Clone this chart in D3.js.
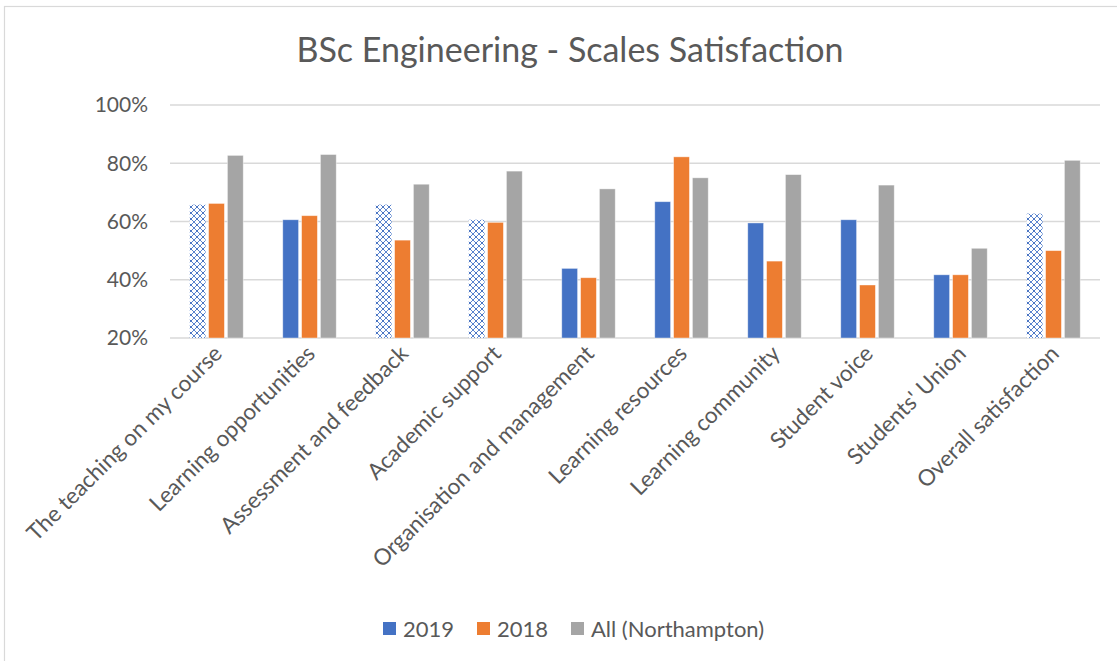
<!DOCTYPE html>
<html>
<head>
<meta charset="utf-8">
<script src="https://cdn.jsdelivr.net/npm/d3@7"></script>
<style>
  body { margin: 0; background: #fff; }
  text { font-family: Lato, "Open Sans", sans-serif; fill: #595959; }
</style>
</head>
<body>
<svg id="chart" width="1117" height="661"></svg>
<script>
// chart values
const categories = [
  "The teaching on my course",
  "Learning opportunities",
  "Assessment and feedback",
  "Academic support",
  "Organisation and management",
  "Learning resources",
  "Learning community",
  "Student voice",
  "Students' Union",
  "Overall satisfaction",
];
const seriesNames = ["2019", "2018", "All (Northampton)"];
const values2019 = [0.658, 0.606, 0.658, 0.606, 0.439, 0.668, 0.595, 0.606, 0.417, 0.627];
const values2018 = [0.662, 0.62, 0.536, 0.597, 0.407, 0.822, 0.464, 0.382, 0.417, 0.50];
const valuesAll = [0.827, 0.83, 0.728, 0.773, 0.712, 0.75, 0.761, 0.725, 0.508, 0.81];
// 2019 bars drawn with the pattern fill (small sample)
const hatched2019 = [true, false, true, true, false, false, false, false, false, true];
const yTicks = [0.2, 0.4, 0.6, 0.8, 1.0];
const colors = ["#4472C4", "#ED7D31", "#A5A5A5"];

const svg = d3.select("#chart");

// pattern for hatched bars
const defs = svg.append("defs");
const pat = defs.append("pattern")
  .attr("id", "lattice")
  .attr("patternUnits", "userSpaceOnUse")
  .attr("width", 6)
  .attr("height", 6);
pat.append("rect").attr("width", 6).attr("height", 6).attr("fill", "#fff");
pat.append("path")
  .attr("d", "M0,0 L6,6 M6,0 L0,6")
  .attr("stroke", "#5b85cf")
  .attr("stroke-width", 1);
pat.append("rect").attr("x", 2.3).attr("y", 2.3).attr("width", 1.4).attr("height", 1.4).attr("fill", "#3c66b8");

// chart area border
svg.append("rect")
  .attr("x", 4.5).attr("y", 6.5)
  .attr("width", 1200).attr("height", 700)
  .attr("fill", "none")
  .attr("stroke", "#d9d9d9")
  .attr("stroke-width", 1.2);

const x = d3.scaleBand().domain(categories).range([170, 1100]);
const y = d3.scaleLinear().domain([0.2, 1.0]).range([338, 105]);

// title
svg.append("text")
  .attr("x", 570).attr("y", 62)
  .attr("text-anchor", "middle")
  .style("font-size", "34px")
  .text("BSc Engineering - Scales Satisfaction");

// gridlines
svg.append("g")
  .selectAll("line")
  .data(yTicks)
  .join("line")
  .attr("x1", 170).attr("x2", 1100)
  .attr("y1", (d) => y(d)).attr("y2", (d) => y(d))
  .attr("stroke", "#d9d9d9")
  .attr("stroke-width", 1.3);

// y axis labels
svg.append("g")
  .selectAll("text")
  .data(yTicks)
  .join("text")
  .attr("x", 148)
  .attr("y", (d) => y(d))
  .attr("dy", "0.35em")
  .attr("text-anchor", "end")
  .style("font-size", "21px")
  .text((d) => d3.format(".0%")(d));

// bars
const x1 = d3.scaleBand().domain(seriesNames).range([0, x.bandwidth()]).paddingInner(0.16).paddingOuter(1.05);
const rows = categories.map((c, i) => ({
  cat: c,
  vals: [values2019[i], values2018[i], valuesAll[i]],
  hatch: hatched2019[i],
}));

const groups = svg.append("g")
  .selectAll("g")
  .data(rows)
  .join("g")
  .attr("transform", (d) => `translate(${x(d.cat)},0)`);

groups.selectAll("rect")
  .data((d) => d.vals.map((v, j) => ({ v: v, j: j, hatch: d.hatch })))
  .join("rect")
  .attr("x", (d) => x1(seriesNames[d.j]))
  .attr("width", x1.bandwidth())
  .attr("y", (d) => y(d.v))
  .attr("height", (d) => y(0.2) - y(d.v))
  .attr("fill", (d) => (d.j === 0 && d.hatch ? "url(#lattice)" : colors[d.j]))
  .attr("stroke", (d) => (d.j === 0 && d.hatch ? "none" : "#fff"))
  .attr("stroke-opacity", 0.5)
  .attr("stroke-width", 0.8);

// x axis labels, rotated
svg.append("g")
  .selectAll("text")
  .data(categories)
  .join("text")
  .attr("text-anchor", "end")
  .attr("transform", (d) => `translate(${x(d) + x.bandwidth() / 2 + 7},${355}) rotate(-45)`)
  .style("font-size", "22.5px")
  .text((d) => d);

// legend
const legendX = [383, 477, 571];
const legend = svg.append("g")
  .selectAll("g")
  .data(seriesNames)
  .join("g")
  .attr("transform", (d, i) => `translate(${legendX[i]},622)`);
legend.append("rect")
  .attr("width", 13).attr("height", 13)
  .attr("fill", (d, i) => colors[i]);
legend.append("text")
  .attr("x", 20).attr("y", 7)
  .attr("dy", "0.35em")
  .style("font-size", "22px")
  .text((d) => d);
</script>
</body>
</html>
